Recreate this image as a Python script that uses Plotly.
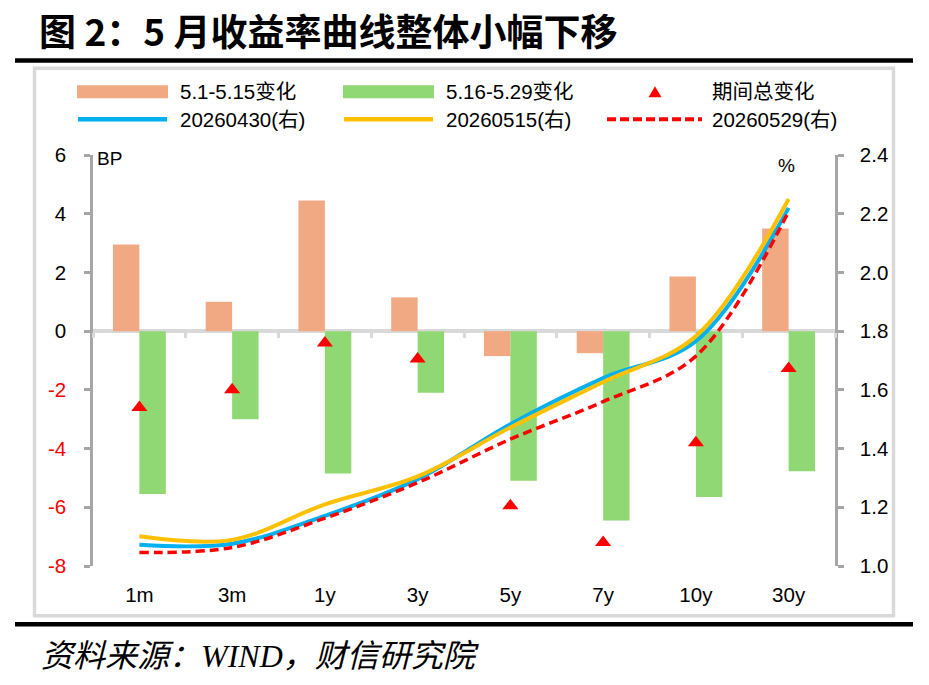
import plotly.graph_objects as go

# ---------------- data ----------------
categories = ["1m", "3m", "1y", "3y", "5y", "7y", "10y", "30y"]
chg_0501_0515 = [2.95, 1.00, 4.45, 1.15, -0.85, -0.75, 1.86, 3.50]      # BP
chg_0516_0529 = [-5.55, -3.00, -4.85, -2.10, -5.10, -6.45, -5.65, -4.77]  # BP
chg_total = [-2.60, -2.00, -0.40, -0.95, -5.95, -7.20, -3.80, -1.27]      # BP
curve_20260430 = [1.072, 1.076, 1.171, 1.296, 1.483, 1.640, 1.766, 2.220]  # %
curve_20260515 = [1.101, 1.089, 1.210, 1.305, 1.472, 1.627, 1.783, 2.250]  # %
curve_20260529 = [1.046, 1.063, 1.163, 1.284, 1.432, 1.560, 1.715, 2.208]  # %

left_ticks = [-8, -6, -4, -2, 0, 2, 4, 6]
right_ticks = [1.0, 1.2, 1.4, 1.6, 1.8, 2.0, 2.2, 2.4]

# ---------------- styling ----------------
W, H = 929, 685
ML, MR, MT, MB = 93, 94, 155, 119
ORANGE = "#F1A984"
GREEN = "#8FD873"
BLUE = "#00B0F0"
YELLOW = "#FFC000"
RED = "#FF0000"
AXIS_GREY = "#A6A6A6"
LIGHT_GREY = "#D9D9D9"
LAT = "Liberation Sans, Arial, Noto Sans CJK SC, sans-serif"
CJK = "Noto Sans CJK SC, sans-serif"

PW = W - ML - MR
PH = H - MT - MB


def px(x):
    return (x - ML) / PW


def py(y):
    return (H - MB - y) / PH


fig = go.Figure()
fig.add_trace(go.Bar(x=categories, y=chg_0501_0515, name="5.1-5.15变化",
                     marker=dict(color=ORANGE, line=dict(width=0)), showlegend=False))
fig.add_trace(go.Bar(x=categories, y=chg_0516_0529, name="5.16-5.29变化",
                     marker=dict(color=GREEN, line=dict(width=0)), showlegend=False))
fig.add_trace(go.Scatter(x=categories, y=chg_total, name="期间总变化", mode="markers",
                         marker=dict(symbol="triangle-up", size=14, color=RED),
                         showlegend=False))
fig.add_trace(go.Scatter(x=categories, y=curve_20260430, name="20260430(右)", yaxis="y2",
                         mode="lines", line=dict(color=BLUE, width=4, shape="spline"),
                         showlegend=False))
fig.add_trace(go.Scatter(x=categories, y=curve_20260515, name="20260515(右)", yaxis="y2",
                         mode="lines", line=dict(color=YELLOW, width=4, shape="spline"),
                         showlegend=False))
fig.add_trace(go.Scatter(x=categories, y=curve_20260529, name="20260529(右)", yaxis="y2",
                         mode="lines", line=dict(color=RED, width=3.5, shape="spline", dash="9px,5px"),
                         showlegend=False))

left_text = [('<span style="color:#FF0000">%d</span>' % v) if v < 0 else str(v) for v in left_ticks]

fig.update_layout(
    width=W, height=H,
    margin=dict(l=ML, r=MR, t=MT, b=MB, pad=0),
    paper_bgcolor="white", plot_bgcolor="white",
    barmode="group", bargap=0.43, bargroupgap=0,
    font=dict(family=LAT, size=20, color="black"),
    xaxis=dict(
        type="category", anchor="free", position=8 / 14,
        showline=True, linecolor=LIGHT_GREY, linewidth=3.5,
        ticks="outside", tickson="boundaries", ticklen=5, tickwidth=3, tickcolor=LIGHT_GREY,
        showgrid=False, zeroline=False, layer="below traces",
        tickfont=dict(family=LAT, size=20.5, color="black"),
        ticklabelstandoff=245,
    ),
    yaxis=dict(
        range=[-8, 6], tickvals=left_ticks, ticktext=left_text,
        showline=True, linecolor=AXIS_GREY, linewidth=2.5,
        ticks="outside", ticklen=6, tickwidth=2.5, tickcolor=AXIS_GREY,
        showgrid=False, zeroline=False, layer="below traces",
        tickfont=dict(family=LAT, size=20.5, color="black"),
        ticklabelstandoff=14,
    ),
    yaxis2=dict(
        range=[1.0, 2.4], tickvals=right_ticks, tickformat=".1f",
        overlaying="y", side="right", anchor="x",
        showline=True, linecolor=AXIS_GREY, linewidth=2.5,
        ticks="outside", ticklen=6, tickwidth=2.5, tickcolor=AXIS_GREY,
        showgrid=False, zeroline=False, layer="below traces",
        tickfont=dict(family=LAT, size=20.5, color="black"),
        ticklabelstandoff=12,
    ),
    showlegend=False,
)

shapes = []
annotations = []

# frame: black rules and grey box
shapes.append(dict(type="line", xref="paper", yref="paper", x0=px(15), x1=px(913), y0=py(60.5), y1=py(60.5),
                   line=dict(color="black", width=4.5), layer="below"))
shapes.append(dict(type="line", xref="paper", yref="paper", x0=px(15), x1=px(913), y0=py(624.3), y1=py(624.3),
                   line=dict(color="black", width=4.5), layer="below"))
shapes.append(dict(type="rect", xref="paper", yref="paper", x0=px(34.5), x1=px(893.5), y0=py(68.3), y1=py(615.7),
                   line=dict(color=LIGHT_GREY, width=3.5), layer="below"))

# title and source
annotations.append(dict(xref="paper", yref="paper", x=px(37), y=py(30), xanchor="left", yanchor="middle",
                        text="<b>图 2：5 月收益率曲线整体小幅下移</b>", showarrow=False,
                        font=dict(family=CJK, size=37, color="black")))
annotations.append(dict(xref="paper", yref="paper", x=px(39), y=py(656), xanchor="left", yanchor="middle",
                        text="<i>资料来源：WIND，财信研究院</i>", showarrow=False,
                        font=dict(family="Liberation Serif, Noto Sans CJK SC, serif", size=32, color="black")))

# axis unit labels
annotations.append(dict(xref="paper", yref="paper", x=px(95), y=py(158), xanchor="left", yanchor="middle",
                        text="BP", showarrow=False, font=dict(family=LAT, size=19, color="black")))
annotations.append(dict(xref="paper", yref="paper", x=px(786), y=py(165), xanchor="center", yanchor="middle",
                        text="%", showarrow=False, font=dict(family=LAT, size=19, color="black")))

# manual legend
ROW1, ROW2 = 91.7, 119.2
legend_items = [
    ("rect", ORANGE, 77, 168, ROW1, "5.1-5.15变化", 178),
    ("rect", GREEN, 343, 434, ROW1, "5.16-5.29变化", 444),
    ("tri", RED, 655, 655, ROW1, "期间总变化", 710),
    ("line", BLUE, 78, 167, ROW2, "20260430(右)", 178),
    ("line", YELLOW, 344, 433, ROW2, "20260515(右)", 444),
    ("dash", RED, 607, 702, ROW2, "20260529(右)", 710),
]
for kind, color, x0, x1, yc, label, tx in legend_items:
    if kind == "rect":
        shapes.append(dict(type="rect", xref="paper", yref="paper", x0=px(x0), x1=px(x1),
                           y0=py(yc + 6.5), y1=py(yc - 6.5), fillcolor=color, line=dict(width=0)))
    elif kind == "tri":
        path = "M %f,%f L %f,%f L %f,%f Z" % (px(x0 - 6.5), py(yc + 5.5), px(x0 + 6.5), py(yc + 5.5),
                                               px(x0), py(yc - 5.5))
        shapes.append(dict(type="path", xref="paper", yref="paper", path=path,
                           fillcolor=color, line=dict(width=0)))
    elif kind == "line":
        shapes.append(dict(type="line", xref="paper", yref="paper", x0=px(x0), x1=px(x1),
                           y0=py(yc), y1=py(yc), line=dict(color=color, width=4.5)))
    else:
        shapes.append(dict(type="line", xref="paper", yref="paper", x0=px(x0), x1=px(x1),
                           y0=py(yc), y1=py(yc), line=dict(color=color, width=4, dash="9px,4px")))
    annotations.append(dict(xref="paper", yref="paper", x=px(tx), y=py(yc), xanchor="left", yanchor="middle",
                            text=label, showarrow=False, font=dict(family=LAT, size=20.5, color="black")))

fig.update_layout(shapes=shapes, annotations=annotations)

fig.write_html("out.html")
